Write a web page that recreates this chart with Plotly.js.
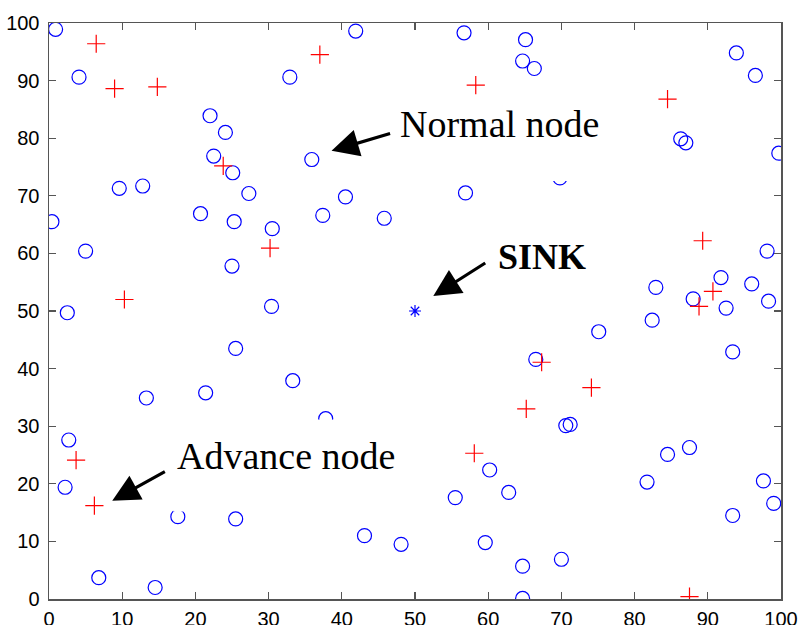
<!DOCTYPE html>
<html>
<head>
<meta charset="utf-8">
<script src="https://cdn.plot.ly/plotly-3.0.1.min.js"></script>
<style>html,body{margin:0;padding:0;background:#fff;}#chart{width:799px;height:625px;}</style>
</head>
<body>
<div id="chart"></div>
<script>
// Normal nodes (blue circles)
const normalX = [0.9,4.1,22.0,24.1,22.5,25.1,27.3,9.6,12.8,0.4,5.0,20.7,25.3,30.5,25.0,32.9,41.9,35.9,37.4,40.5,45.8,30.4,2.5,
  56.7,65.1,64.7,66.3,93.9,96.5,86.3,87.0,99.7,69.8,56.9,98.1,91.8,82.9,96.0,88.0,92.5,98.3,
  25.5,13.3,21.4,33.3,37.8,2.7,2.2,17.6,25.5,43.1,48.1,6.8,14.5,
  82.4,75.1,93.4,66.5,70.6,71.2,87.5,84.5,60.2,62.8,55.5,81.7,97.6,99.0,93.4,59.6,70.0,64.7,64.7];
const normalY = [98.9,90.6,83.9,81.0,76.9,74.0,70.4,71.3,71.7,65.5,60.4,66.9,65.5,64.3,57.8,90.6,98.6,76.3,66.6,69.8,66.1,50.8,49.7,
  98.3,97.1,93.4,92.1,94.8,90.9,79.9,79.2,77.4,73.1,70.5,60.4,55.8,54.1,54.7,52.1,50.5,51.7,
  43.5,34.9,35.8,37.9,31.3,27.6,19.4,14.3,13.9,11.0,9.5,3.7,2.0,
  48.4,46.4,42.9,41.6,30.1,30.3,26.3,25.1,22.4,18.5,17.6,20.3,20.5,16.6,14.5,9.8,6.9,5.7,0.1];
// Advance nodes (red crosses)
const advX = [6.45,8.96,14.8,37.0,23.8,30.2,10.3,58.3,84.5,89.3,90.7,88.8,3.7,6.2,67.3,74.1,65.2,58.1,87.5];
const advY = [96.4,88.6,88.9,94.5,75.2,60.9,52.0,89.2,86.8,62.2,53.4,50.8,24.1,16.2,41.1,36.7,33.0,25.3,0.4];
// Sink
const sinkX = [50];
const sinkY = [50];
const tickVals = [0,10,20,30,40,50,60,70,80,90,100];
const tickText = ['0','10','20','30','40','50','60','70','80','90','100'];

const traces = [
  {x: normalX, y: normalY, type: 'scatter', mode: 'markers', name: 'Normal node',
   marker: {symbol: 'circle-open', size: 14, color: '#0000ff', line: {width: 1.2, color: '#0000ff'}}},
  {x: advX, y: advY, type: 'scatter', mode: 'markers', name: 'Advance node',
   marker: {symbol: 'cross-thin-open', size: 13, color: '#ff0000', line: {width: 1.2, color: '#ff0000'}}},
  {x: sinkX, y: sinkY, type: 'scatter', mode: 'markers', name: 'SINK',
   marker: {symbol: 'asterisk-open', size: 10, color: '#0000ff', line: {width: 1.2, color: '#0000ff'}}}
];

const axisCommon = {
  range: [0, 100], autorange: false, showgrid: false, zeroline: false,
  showline: true, linecolor: '#555', linewidth: 1.5, mirror: 'ticks',
  ticks: 'inside', ticklen: 7, tickwidth: 1.3, tickcolor: '#555',
  tickvals: tickVals, ticktext: tickText,
  tickfont: {family: 'Liberation Sans, Arial, sans-serif', size: 20, color: '#000'}
};

const serif = 'Liberation Serif, Times New Roman, serif';
const arrowStyle = {showarrow: true, arrowhead: 2, arrowsize: 1.7, arrowwidth: 3.2, arrowcolor: '#000'};
const layout = {
  width: 799, height: 625,
  margin: {l: 49, r: 18, t: 23, b: 26, pad: 0},
  paper_bgcolor: '#fff', plot_bgcolor: '#fff',
  showlegend: false,
  xaxis: Object.assign({}, axisCommon, {ticklabelstandoff: 1}),
  yaxis: Object.assign({}, axisCommon, {ticklabelstandoff: 4}),
  shapes: [
    {type: 'rect', xref: 'x', yref: 'y', x0: 68.5, x1: 71.2, y0: 72.55, y1: 74.6, fillcolor: '#fff', line: {width: 0}, layer: 'above'},
    {type: 'rect', xref: 'x', yref: 'y', x0: 36.5, x1: 39.2, y0: 29.6, y1: 31.15, fillcolor: '#fff', line: {width: 0}, layer: 'above'},
    {type: 'rect', xref: 'x', yref: 'y', x0: 16.96, x1: 18.53, y0: 15.18, y1: 16.0, fillcolor: '#fff', line: {width: 0}, layer: 'above'}
  ],
  annotations: [
    {x: 61.6, y: 82.4, xref: 'x', yref: 'y', text: 'Normal node', showarrow: false,
     font: {family: serif, size: 38, color: '#000'}, xanchor: 'center', yanchor: 'middle'},
    Object.assign({x: 38.6, y: 77.8, ax: 46.8, ay: 80.9, axref: 'x', ayref: 'y', xref: 'x', yref: 'y', text: ''}, arrowStyle),
    {x: 67.4, y: 59.4, xref: 'x', yref: 'y', text: '<b>SINK</b>', showarrow: false,
     font: {family: serif, size: 36, color: '#000'}, xanchor: 'center', yanchor: 'middle'},
    Object.assign({x: 52.5, y: 52.6, ax: 59.8, ay: 58.5, axref: 'x', ayref: 'y', xref: 'x', yref: 'y', text: ''}, arrowStyle),
    {x: 32.4, y: 24.9, xref: 'x', yref: 'y', text: 'Advance node', showarrow: false,
     font: {family: serif, size: 38, color: '#000'}, xanchor: 'center', yanchor: 'middle'},
    Object.assign({x: 8.64, y: 17.06, ax: 16.03, ay: 22.26, axref: 'x', ayref: 'y', xref: 'x', yref: 'y', text: ''}, arrowStyle)
  ]
};

Plotly.newPlot('chart', traces, layout, {displayModeBar: false, staticPlot: true});
</script>
</body>
</html>
